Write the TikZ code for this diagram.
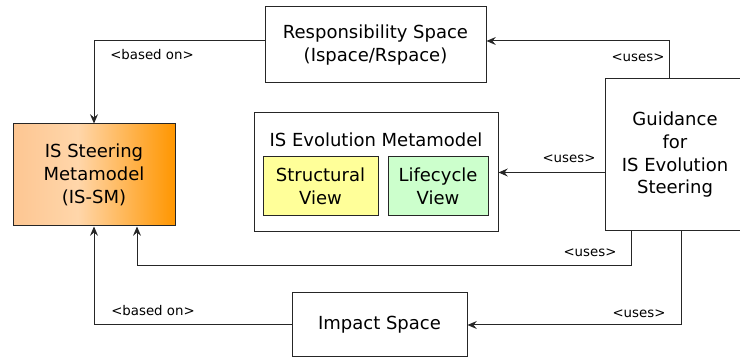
\documentclass[tikz,border=0pt]{standalone}
\usepackage{fontspec}
\setmainfont{DejaVu Sans}
\usetikzlibrary{arrows,arrows.meta,positioning}
\definecolor{ismA}{RGB}{253,198,146}
\definecolor{ismB}{RGB}{255,214,170}
\definecolor{ismC}{RGB}{255,150,0}
\definecolor{structcol}{RGB}{255,255,153}
\definecolor{lifecol}{RGB}{204,255,204}
\pgfdeclarehorizontalshading{ismshade}{100bp}{color(0bp)=(ismA); color(25bp)=(ismA); color(45bp)=(ismB); color(75bp)=(ismC); color(100bp)=(ismC)}
\tikzset{font=\fontsize{13.5}{17}\selectfont}
\tikzstyle{box}=[draw=black!85,line width=0.75pt,align=center,inner sep=0pt]
\tikzstyle{lbl}=[font=\fontsize{10}{12}\selectfont,inner sep=0pt]
\tikzstyle{conn}=[->,draw=black!85,line width=0.75pt,>={Stealth[length=7pt,width=6pt,inset=2.5pt]}]

\begin{document}
\begin{tikzpicture}[x=0.75pt,y=-0.75pt]
\useasboundingbox (0,0) rectangle (740,359);
\clip (0,0) rectangle (740,359);
% boxes
\node[box,minimum width=165.75pt,minimum height=57pt] (resp) at (375.5,45) {Responsibility Space\\(Ispace/Rspace)};
\node[box,minimum width=105pt,minimum height=114pt] (guid) at (675,155) {Guidance\\for\\IS Evolution\\Steering};
\node[box,shading=ismshade,minimum width=121.5pt,minimum height=76.5pt] (issm) at (94,175) {IS Steering\\Metamodel\\(IS-SM)};
\node[box,minimum width=183pt,minimum height=89.25pt] (evo) at (376,172.5) {};
\node (evotitle) at (376,140) {IS Evolution Metamodel};
\node[box,fill=structcol,minimum width=86.25pt,minimum height=44.25pt] (struct) at (320.5,186.5) {Structural\\View};
\node[box,fill=lifecol,minimum width=75pt,minimum height=44.25pt] (life) at (438,186.5) {Lifecycle\\View};
\node[box,minimum width=131.25pt,minimum height=48pt] (impact) at (379.5,325) {Impact Space};
% labels
\node[lbl] (based1) at (152,55) {<based on>};
\node[lbl] (uses1) at (638,58) {<uses>};
\node[lbl] (uses2) at (569,159) {<uses>};
\node[lbl] (uses3) at (590,253) {<uses>};
\node[lbl] (uses4) at (639,314) {<uses>};
\node[lbl] (based2) at (153,311) {<based on>};
% connectors
\draw[conn] ([yshift=3pt]resp.west) -| (issm.north);
\draw[conn] ([xshift=-4.5pt]guid.north) |- ([yshift=3pt]resp.east);
\draw[conn] (guid.west |- evo.east) -- (evo.east);
\draw[conn] ([xshift=-33pt]guid.south) -- ++(0,34) -| ([xshift=32.25pt]issm.south);
\draw[conn] ([xshift=4.5pt]guid.south) |- (impact.east);
\draw[conn] (impact.west) -| (issm.south);
\end{tikzpicture}
\end{document}
